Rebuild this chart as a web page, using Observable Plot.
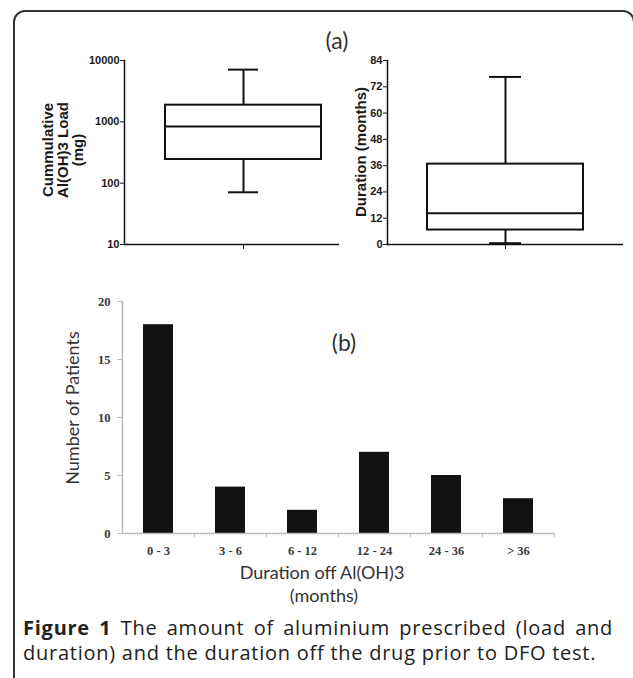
<!DOCTYPE html>
<html>
<head>
<meta charset="utf-8">
<script src="https://cdn.jsdelivr.net/npm/d3@7"></script>
<script src="https://cdn.jsdelivr.net/npm/@observablehq/plot@0.6"></script>
<style>
html, body { margin: 0; padding: 0; background: #fff; }
#fig { position: relative; width: 633px; height: 678px; overflow: hidden; background: #fff; }
.abs { position: absolute; }
.rot { transform: translate(-50%, -50%) rotate(-90deg); white-space: nowrap; text-align: center; }
.ctr { transform: translate(-50%, -50%); white-space: nowrap; text-align: center; }
.lab-a { font-family: "Liberation Sans", Arial, sans-serif; font-weight: bold; font-size: 15px; line-height: 15px; color: #1a1a1a; }
.lab-b { font-family: Lato, "Open Sans", sans-serif; font-size: 18px; color: #333; }
.cap { font-family: "Open Sans", sans-serif; font-size: 20px; line-height: 24px; letter-spacing: 0.75px; color: #222; }
</style>
</head>
<body>
<div id="fig">
  <div class="abs" style="left:13px;top:10px;width:622px;height:720px;border:2px solid #333;border-radius:12px;box-sizing:border-box;"></div>
  <div id="pa1" class="abs" style="left:0;top:0;"></div>
  <div id="pa2" class="abs" style="left:260px;top:0;"></div>
  <div id="pb" class="abs" style="left:0;top:270px;"></div>

  <div class="abs lab-a rot" style="left:62px;top:150px;">Cummulative<br>Al(OH)3 Load<br>(mg)</div>
  <div class="abs lab-a rot" style="left:360px;top:152px;">Duration (months)</div>
  <div class="abs lab-b ctr" style="left:337px;top:40px;font-size:23px;">(a)</div>

  <div class="abs lab-b ctr" style="left:344px;top:342px;font-size:23px;">(b)</div>
  <div class="abs lab-b rot" style="left:72px;top:408px;">Number of Patients</div>
  <div class="abs lab-b ctr" style="left:322px;top:572px;">Duration off Al(OH)3</div>
  <div class="abs lab-b ctr" style="left:324px;top:595px;">(months)</div>

  <div class="abs cap" style="left:23px;top:616px;width:590px;text-align:justify;text-align-last:justify;"><b>Figure 1</b> The amount of aluminium prescribed (load and</div>
  <div class="abs cap" style="left:23px;top:641px;white-space:nowrap;">duration) and the duration off the drug prior to DFO test.</div>
</div>
<script>
// ---- data ----
const statNames = ["min", "q1", "median", "q3", "max"];
const loadStats = [71, 243, 840, 1870, 7100];          // mg
const durationStats = [0.6, 6.6, 14.3, 36.7, 76.5];    // months
const loadTicks = [10, 100, 1000, 10000];
const durationTicks = [0, 12, 24, 36, 48, 60, 72, 84];

const offCategories = ["0 - 3", "3 - 6", "6 - 12", "12 - 24", "24 - 36", "> 36"];
const offPatients = [18, 4, 2, 7, 5, 3];
const patientTicks = [0, 5, 10, 15, 20];

// ---- helpers ----
function boxRow(name, stats) {
  const r = {name};
  statNames.forEach((k, i) => (r[k] = stats[i]));
  return r;
}

function boxPlot(row, cfg) {
  const ink = "#111";
  return Plot.plot({
    width: cfg.width,
    height: 260,
    marginTop: 60,
    marginBottom: 16,
    marginLeft: cfg.marginLeft,
    marginRight: cfg.marginRight,
    x: {domain: [row.name], paddingInner: 0, paddingOuter: cfg.paddingOuter, align: cfg.align},
    y: cfg.y,
    style: {fontFamily: "Liberation Sans, Arial, sans-serif", fontSize: "11px", fontWeight: "bold", color: "#1a1a1a", background: "transparent", overflow: "visible"},
    marks: [
      Plot.ruleX([row], {x: "name", y1: "q3", y2: "max", stroke: ink, strokeWidth: 2}),
      Plot.ruleX([row], {x: "name", y1: "min", y2: "q1", stroke: ink, strokeWidth: 2}),
      Plot.barY([row], {x: "name", y1: "q1", y2: "q3", fill: "white", stroke: ink, strokeWidth: 2}),
      Plot.tickY([row], {x: "name", y: "median", stroke: ink, strokeWidth: 2}),
      Plot.tickY([row], {x: "name", y: "max", stroke: ink, strokeWidth: 2, insetLeft: cfg.capInset, insetRight: cfg.capInset}),
      Plot.tickY([row], {x: "name", y: "min", stroke: ink, strokeWidth: 2, insetLeft: cfg.capInset, insetRight: cfg.capInset}),
      Plot.ruleY([cfg.y.domain[0]], {stroke: ink, strokeWidth: 1.5}),
      Plot.frame({anchor: "left", stroke: ink, strokeWidth: 1.5}),
      Plot.axisY({ticks: cfg.ticks, tickFormat: d => String(d), tickSize: 4, tickPadding: 1, label: null}),
      Plot.axisX({tickFormat: () => "", tickSize: 5, label: null})
    ]
  });
}

// ---- panel (a): load ----
document.getElementById("pa1").append(boxPlot(boxRow("load", loadStats), {
  width: 345, marginLeft: 124, marginRight: 6,
  paddingOuter: 0.185, align: 0.69, capInset: 63,
  y: {type: "log", domain: [10, 10000]},
  ticks: loadTicks
}));

// ---- panel (a): duration ----
document.getElementById("pa2").append(boxPlot(boxRow("duration", durationStats), {
  width: 373, marginLeft: 127, marginRight: 10,
  paddingOuter: 0.256, align: 0.5, capInset: 62,
  y: {domain: [0, 84]},
  ticks: durationTicks
}));

// ---- panel (b): bars ----
const offData = offCategories.map((c, i) => ({category: c, patients: offPatients[i]}));
document.getElementById("pb").append(Plot.plot({
  width: 633,
  height: 300,
  marginTop: 31,
  marginBottom: 37,
  marginLeft: 122,
  marginRight: 79,
  x: {domain: offCategories, paddingInner: 0.58, paddingOuter: 0.29},
  y: {domain: [0, 20]},
  style: {fontFamily: "Liberation Serif, serif", fontSize: "12.5px", fontWeight: "bold", color: "#3a3a3a", background: "transparent", overflow: "visible"},
  marks: [
    Plot.barY(offData, {x: "category", y: "patients", fill: "#111"}),
    Plot.ruleY([0], {stroke: "#bbb", strokeWidth: 1.5}),
    Plot.frame({anchor: "left", stroke: "#bbb", strokeWidth: 1.5}),
    Plot.axisY({ticks: patientTicks, tickSize: 5, tickPadding: 7, stroke: "#bbb", label: null}),
    Plot.axisX({tickSize: 0, tickPadding: 13, label: null}),
    Plot.axisX({tickSize: 4, tickFormat: () => "", dx: 36, stroke: "#bbb", label: null})
  ]
}));
</script>
</body>
</html>
